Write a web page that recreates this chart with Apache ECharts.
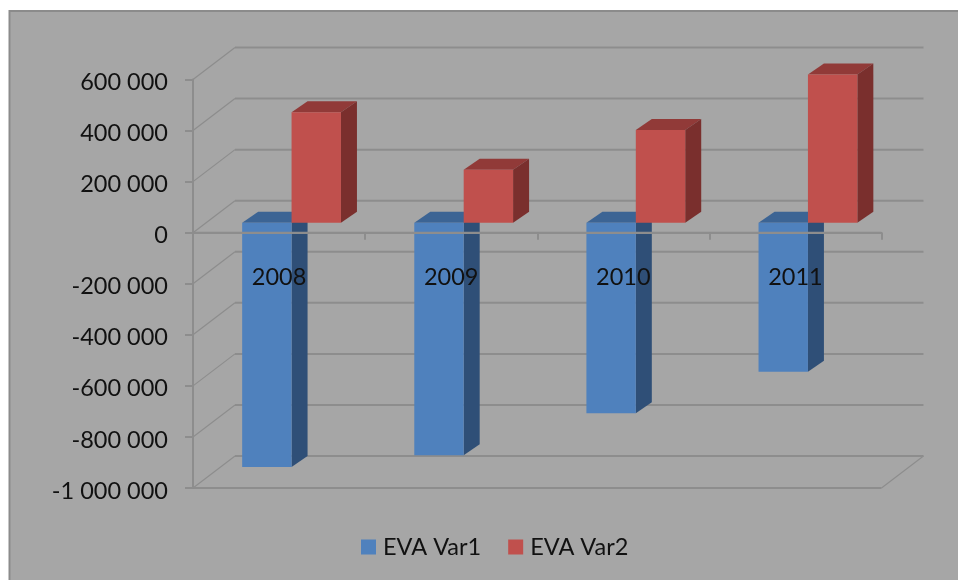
<!DOCTYPE html>
<html>
<head>
<meta charset="utf-8">
<style>
html,body{margin:0;padding:0;background:#fff}
#chart{width:958px;height:580px}
</style>
<script src="https://cdn.jsdelivr.net/npm/echarts@6/dist/echarts.min.js"></script>
</head>
<body>
<div id="chart"></div>
<script>
const categories = ['2008', '2009', '2010', '2011'];
const evaVar1 = [-957000, -911000, -746000, -584000];
const evaVar2 = [433000, 207000, 363000, 580000];
const axisTicks = [-1000000, -800000, -600000, -400000, -200000, 0, 200000, 400000, 600000];
const tickLabels = ['-1 000 000', '-800 000', '-600 000', '-400 000', '-200 000', '0', '200 000', '400 000', '600 000'];

const FONT = 'Lato';
const GRID_COLOR = '#8d8d8d';
// Oblique projection of the chart's depth: wall offset, bar placement, bar depth.
const WALL_DX = 42, WALL_DY = -32;
const BAR_DX = 12.5, BAR_DY = -10;
const BAR_DEPTH_X = 16, BAR_DEPTH_Y = -11;
const BAR_WIDTH_RATIO = 0.287;

function poly(points, fill) {
  return { type: 'polygon', shape: { points }, style: { fill, stroke: null } };
}

function seg(x1, y1, x2, y2, lineWidth, stroke) {
  return { type: 'line', shape: { x1, y1, x2, y2 }, style: { stroke, lineWidth } };
}

// Draws the three visible faces of one bar; side 0 sits left of the band centre, side 1 right.
function boxRenderer(side, front, top, flank) {
  return function (params, api) {
    const cat = api.value(0), val = api.value(1);
    const zero = api.coord([cat, 0]);
    const end = api.coord([cat, val]);
    const w = api.size([1, 0])[0] * BAR_WIDTH_RATIO;
    const x0 = zero[0] + BAR_DX - (side === 0 ? w : 0);
    const x1 = x0 + w;
    const yTop = Math.min(zero[1], end[1]) + BAR_DY;
    const yBot = Math.max(zero[1], end[1]) + BAR_DY;
    return {
      type: 'group',
      children: [
        poly([[x0, yTop], [x0 + BAR_DEPTH_X, yTop + BAR_DEPTH_Y], [x1 + BAR_DEPTH_X, yTop + BAR_DEPTH_Y], [x1, yTop]], top),
        poly([[x1, yTop], [x1 + BAR_DEPTH_X, yTop + BAR_DEPTH_Y], [x1 + BAR_DEPTH_X, yBot + BAR_DEPTH_Y], [x1, yBot]], flank),
        poly([[x0, yTop], [x1, yTop], [x1, yBot], [x0, yBot]], front)
      ]
    };
  };
}

// Back-wall gridline plus the receding line on the left wall for one tick value.
function wallRenderer(params, api) {
  const val = api.value(1);
  const y = api.coord([0, val])[1];
  const rect = params.coordSys;
  const left = rect.x, right = rect.x + rect.width;
  const children = [
    seg(left + WALL_DX, y + WALL_DY, right + WALL_DX, y + WALL_DY, 2, GRID_COLOR),
    seg(left, y, left + WALL_DX, y + WALL_DY, 1.2, GRID_COLOR)
  ];
  if (val === axisTicks[0]) {
    children.push(seg(left, y, right, y, 2, GRID_COLOR));
    children.push(seg(right, y, right + WALL_DX, y + WALL_DY, 1.2, GRID_COLOR));
  }
  return { type: 'group', children };
}

// The baseline at zero runs in front of the bars.
function baselineRenderer(params, api) {
  const y = api.coord([0, api.value(1)])[1];
  const rect = params.coordSys;
  return seg(rect.x, y, rect.x + rect.width, y, 2, GRID_COLOR);
}

const chart = echarts.init(document.getElementById('chart'), null, { renderer: 'canvas' });
chart.setOption({
  animation: false,
  backgroundColor: '#ffffff',
  graphic: [{
    type: 'rect',
    z: -10,
    shape: { x: 9.5, y: 11, width: 980, height: 600 },
    style: { fill: '#a6a6a6', stroke: '#8b8b8b', lineWidth: 2 }
  }],
  grid: { left: 193, right: 76.5, top: 79.5, bottom: 92, containLabel: false },
  legend: {
    data: ['EVA Var1', 'EVA Var2'],
    left: 356,
    top: 530,
    icon: 'rect',
    itemWidth: 15,
    itemHeight: 15,
    itemGap: 27,
    textStyle: { fontFamily: FONT, fontSize: 23.5, color: '#111111', padding: [0, 0, 0, 2] }
  },
  xAxis: {
    type: 'category',
    data: categories,
    z: 5,
    axisLine: { onZero: true, lineStyle: { color: GRID_COLOR, width: 2 } },
    axisTick: { show: true, alignWithLabel: false, length: 7, lineStyle: { color: GRID_COLOR, width: 2 } },
    axisLabel: { fontFamily: FONT, fontSize: 23.5, color: '#111111', margin: -223 },
    splitLine: { show: false }
  },
  yAxis: {
    type: 'value',
    min: -1000000,
    max: 600000,
    interval: 200000,
    z: 5,
    axisLine: { show: true, lineStyle: { color: GRID_COLOR, width: 2 } },
    axisTick: { show: true, length: 8, lineStyle: { color: GRID_COLOR, width: 2 } },
    axisLabel: {
      fontFamily: FONT,
      fontSize: 23.5,
      color: '#111111',
      margin: 25,
      verticalAlign: 'top',
      lineHeight: 6,
      formatter: (value, index) => tickLabels[index]
    },
    splitLine: { show: false }
  },
  series: [
    {
      type: 'custom',
      name: 'walls',
      z: 1,
      silent: true,
      clip: false,
      renderItem: wallRenderer,
      encode: { x: 0, y: 1 },
      data: axisTicks.map(v => [0, v])
    },
    {
      type: 'custom',
      name: 'EVA Var1',
      z: 2,
      clip: false,
      itemStyle: { color: '#4f81bd' },
      renderItem: boxRenderer(0, '#4f81bd', '#3c6494', '#2f4f77'),
      encode: { x: 0, y: 1 },
      data: evaVar1.map((v, i) => [i, v])
    },
    {
      type: 'custom',
      name: 'EVA Var2',
      z: 3,
      clip: false,
      itemStyle: { color: '#c0504d' },
      renderItem: boxRenderer(1, '#c0504d', '#913a38', '#7a2f2d'),
      encode: { x: 0, y: 1 },
      data: evaVar2.map((v, i) => [i, v])
    },
    {
      type: 'custom',
      name: 'baseline',
      z: 4,
      silent: true,
      clip: false,
      renderItem: baselineRenderer,
      encode: { x: 0, y: 1 },
      data: [[0, 0]]
    }
  ]
});
</script>
</body>
</html>
